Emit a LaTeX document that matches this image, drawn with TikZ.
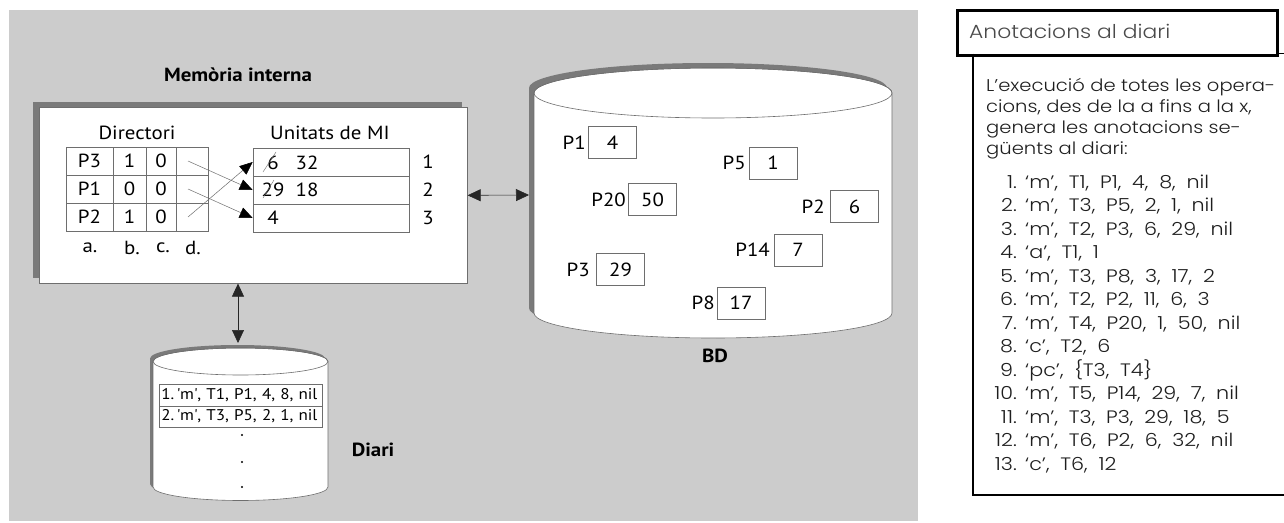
\documentclass[tikz,border=0pt]{standalone}
\usepackage{fontspec}
\setmainfont{PT Sans}[FakeStretch=1.1]
\newfontfamily\notefont{Poppins Light}[FakeStretch=1.15]
\newfontfamily\listfont{Poppins Light}[FakeStretch=1.15]
\newcommand\widespaces{\spaceskip=0.6em\relax}
\usetikzlibrary{arrows.meta}
\definecolor{bggray}{HTML}{CCCCCC}
\definecolor{shadowgray}{HTML}{7A7A7A}
\definecolor{edgegray}{HTML}{6E6E6E}
\definecolor{notetext}{HTML}{1E1E1E}
\definecolor{hdrtext}{HTML}{4A4A4A}
\begin{document}
\begin{tikzpicture}[x=1pt,y=-1pt,
  txt/.style={font=\fontsize{19}{22}\selectfont, inner sep=0pt},
  ttl/.style={font=\bfseries\fontsize{19}{22}\selectfont, inner sep=0pt},
  cell/.style={draw=edgegray, line width=0.6pt, minimum height=28pt, inner sep=0pt, font=\fontsize{19}{22}\selectfont},
  valbox/.style={draw=edgegray, line width=0.6pt, minimum width=48pt, minimum height=32pt, inner sep=0pt, font=\fontsize{19}{22}\selectfont},
  ptr/.style={draw=edgegray, line width=0.5pt, -{Triangle[length=13pt,width=11pt,color=black]}},
  link/.style={draw=black!85, line width=0.6pt, {Triangle[length=13pt,width=12pt]}-{Triangle[length=13pt,width=12pt]}},
  entry/.style={draw=edgegray, line width=0.6pt, anchor=north west, minimum width=163pt, minimum height=21.5pt, text width=159pt, inner xsep=2pt, inner ysep=0pt, align=left, font=\fontsize{15.5}{18}\selectfont},
  note/.style={font=\notefont\fontsize{17}{20}\selectfont, text=notetext, inner sep=0pt, anchor=base west},
  listline/.style={font=\listfont\fontsize{18}{20}\selectfont, text=notetext, inner sep=0pt, anchor=base west},
  listnum/.style={listline, anchor=base east},
]
\useasboundingbox (0,0) rectangle (1284,522);
\fill[bggray] (9,10) rectangle (918,521);

% ---- internal memory ----
\fill[shadowgray] (33,102) rectangle (462,278);
\node[draw=edgegray, fill=white, line width=0.6pt, anchor=north west,
      minimum width=428pt, minimum height=176pt, inner sep=0pt] (mem) at (39,107) {};
\node[ttl] (memtitle) at (238,75) {Memòria interna};

\node[txt] (dirtitle) at (137,133) {Directori};
\node[txt] (unittitle) at (330,133) {Unitats de MI};

\foreach \r/\y/\a/\b/\c in {1/161/P3/1/0, 2/189/P1/0/0, 3/217/P2/1/0}{
  \node[cell, minimum width=47pt] (d\r1) at (89.5,\y) {\a};
  \node[cell, minimum width=33pt] (d\r2) at (129.5,\y) {\b};
  \node[cell, minimum width=30pt] (d\r3) at (161,\y) {\c};
  \node[cell, minimum width=32pt] (d\r4) at (192,\y) {};
}
\node[txt] (cola) at (90,248) {a.};
\node[txt] (colb) at (132,248) {b.};
\node[txt] (colc) at (163,248) {c.};
\node[txt] (cold) at (193,248) {d.};

\foreach \r/\y in {1/162, 2/190, 3/218}{
  \node[cell, minimum width=156pt] (u\r) at (331,\y) {};
  \node[txt] (n\r) at (428,\y) {\r};
}
\node[txt] (u1a) at (273,163) {6};
\node[txt] (u1b) at (307,163) {32};
\node[txt] (u2a) at (273,190) {29};
\node[txt] (u2b) at (307,190) {18};
\node[txt] (u3a) at (273,218) {4};
\draw[edgegray, line width=0.4pt] (263,172) -- (276,152);
\draw[edgegray, line width=0.4pt] (263,198) -- (274,180);

\draw[ptr] ([xshift=-4pt]d14.center) -- (u2.west);
\draw[ptr] ([xshift=-4pt]d24.center) -- (u3.west);
\draw[ptr] ([xshift=-4pt]d34.center) -- (u1.west);

% ---- database ----
\fill[shadowgray] (529,88) -- (529,308)
  arc[start angle=180, end angle=0, x radius=179, y radius=25] -- (887,88)
  arc[start angle=0, end angle=-180, x radius=179, y radius=25] -- cycle;
\filldraw[fill=white, draw=edgegray, line width=0.6pt] (534,93) -- (534,313)
  arc[start angle=180, end angle=0, x radius=179, y radius=25] -- (892,93)
  arc[start angle=0, end angle=-180, x radius=179, y radius=25] -- cycle;
\draw[edgegray, line width=0.6pt] (713,93) ellipse[x radius=179, y radius=25];
\node[minimum width=358pt, minimum height=270pt, inner sep=0pt] (bd) at (713,203) {};
\node[ttl] (bdlabel) at (715,356) {BD};

\foreach \n/\v/\x/\y/\lx in {P1/4/612.5/142.5/586, P5/1/773/163/746, P20/50/652.5/199.5/626,
                            P2/6/854.5/206.5/825, P14/7/798/250/770, P3/29/620.5/269.5/590,
                            P8/17/741/303/715}{
  \node[valbox] (v\n) at (\x,\y) {\v};
  \node[txt, anchor=east] (l\n) at (\lx,\y) {\n};
}

% ---- journal ----
\fill[shadowgray] (150,358.5) -- (150,484)
  arc[start angle=180, end angle=0, x radius=87.5, y radius=13.5] -- (325,358.5)
  arc[start angle=0, end angle=-180, x radius=87.5, y radius=13.5] -- cycle;
\filldraw[fill=white, draw=edgegray, line width=0.6pt] (153,361.5) -- (153,487)
  arc[start angle=180, end angle=0, x radius=87.5, y radius=13.5] -- (328,361.5)
  arc[start angle=0, end angle=-180, x radius=87.5, y radius=13.5] -- cycle;
\draw[edgegray, line width=0.6pt] (240.5,361.5) ellipse[x radius=87.5, y radius=13.5];
\node[entry] (e1) at (159,384) {\mbox{1.\,\textquotesingle m\textquotesingle, T1, P1, 4, 8, nil}};
\node[entry] (e2) at (159,405.5) {\mbox{2.\,\textquotesingle m\textquotesingle, T3, P5, 2, 1, nil}};
\fill (242,435) circle[radius=1.1];
\fill (242,462) circle[radius=1.1];
\fill (242,487) circle[radius=1.1];
\node[ttl] (diarilabel) at (373,450) {Diari};

% ---- links ----
\coordinate (bdport) at (529,195);
\coordinate (diariport) at (238,343);
\draw[link] (mem.east) -- (bdport);
\draw[link] (mem.south -| diariport) -- (diariport);

% ---- side note ----
\node[draw, line width=3pt, anchor=north west, minimum width=320pt, minimum height=45pt,
      inner sep=0pt] (hdr) at (955.5,8.5) {};
\node[font=\notefont\fontsize{19}{21}\selectfont, text=hdrtext, anchor=west, inner sep=0pt]
  (hdrtext) at (969,31) {Anotacions al diari};
\draw[line width=1.2pt] (1277,53.5) -- (1284,53.5);
\draw[line width=1.5pt] (973,53.5) -- (973,495) -- (1284,495);

\foreach \i/\t in {1/{L’execució de totes les opera-}, 2/{cions, des de la a fins a la x,},
                   3/{genera les anotacions se-}, 4/{güents al diari:}}{
  \node[note] (p\i) at (986,{91+21*(\i-1)}) {\t};
}
\foreach \i/\t in {1/{‘m’, T1, P1, 4, 8, nil}, 2/{‘m’, T3, P5, 2, 1, nil},
                   3/{‘m’, T2, P3, 6, 29, nil}, 4/{‘a’, T1, 1},
                   5/{‘m’, T3, P8, 3, 17, 2}, 6/{‘m’, T2, P2, 11, 6, 3},
                   7/{‘m’, T4, P20, 1, 50, nil}, 8/{‘c’, T2, 6},
                   9/{‘pc’, \{T3, T4\}}, 10/{‘m’, T5, P14, 29, 7, nil},
                   11/{‘m’, T3, P3, 29, 18, 5}, 12/{‘m’, T6, P2, 6, 32, nil},
                   13/{‘c’, T6, 12}}{
  \node[listnum] (k\i) at (1017,{188+23.5*(\i-1)}) {\i.};
  \node[listline] (t\i) at (1025,{188+23.5*(\i-1)}) {\widespaces\t};
}
\end{tikzpicture}
\end{document}
